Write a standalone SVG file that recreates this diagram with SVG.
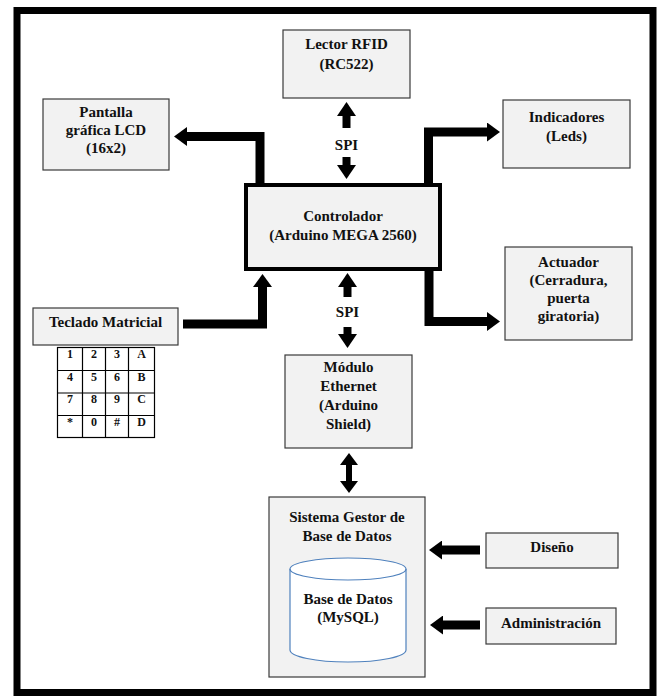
<svg xmlns="http://www.w3.org/2000/svg" width="657" height="698" viewBox="0 0 657 698">
<style>
.box{fill:#f2f2f2;stroke:#3a3a3a;stroke-width:1.2}
.t{font-family:"Liberation Serif","Times New Roman",serif;font-weight:bold;font-size:15px;fill:#111;text-anchor:middle}
.k{font-family:"Liberation Serif","Times New Roman",serif;font-weight:bold;font-size:12px;fill:#111;text-anchor:middle}
.c{fill:none;stroke:#000;stroke-linejoin:miter;stroke-linecap:butt}
.grid{fill:none;stroke:#000;stroke-width:1.2}
</style>
<defs>
<marker id="ah" markerUnits="userSpaceOnUse" viewBox="0 0 13 19" markerWidth="13" markerHeight="19" refX="0" refY="9.5" orient="auto-start-reverse">
<path d="M0,0 L13,9.5 L0,19 Z" fill="#000"/>
</marker>
<marker id="ah2" markerUnits="userSpaceOnUse" viewBox="0 0 14 19" markerWidth="14" markerHeight="19" refX="0" refY="9.5" orient="auto-start-reverse">
<path d="M0,0 L14,9.5 L0,19 Z" fill="#000"/>
</marker>
<marker id="ah3" markerUnits="userSpaceOnUse" viewBox="0 0 12 18" markerWidth="12" markerHeight="18" refX="0" refY="9" orient="auto-start-reverse">
<path d="M0,0 L12,9 L0,18 Z" fill="#000"/>
</marker>
</defs>
<rect x="0" y="0" width="657" height="698" fill="#fff"/>
<rect x="17" y="10.5" width="636" height="682" fill="#fff" stroke="#000" stroke-width="7"/>

<g id="connectors">
<path class="c" stroke-width="9" d="M260,183 V136.5 H187" marker-end="url(#ah)"/>
<path class="c" stroke-width="9" d="M428.5,183 V132 H487" marker-end="url(#ah)"/>
<path class="c" stroke-width="9" d="M429,270 V321.5 H487" marker-end="url(#ah)"/>
<path class="c" stroke-width="9" d="M183,324 H262.5 V287" marker-end="url(#ah)"/>
<path class="c" stroke-width="8" d="M346.5,128 V116" marker-end="url(#ah2)"/>
<path class="c" stroke-width="8" d="M346.5,157 V165" marker-end="url(#ah2)"/>
<path class="c" stroke-width="8" d="M347.5,297 V287" marker-end="url(#ah2)"/>
<path class="c" stroke-width="8" d="M347.5,327 V334" marker-end="url(#ah2)"/>
<path class="c" stroke-width="6" d="M349,465 V481" marker-start="url(#ah3)" marker-end="url(#ah3)"/>
<path class="c" stroke-width="9" d="M480,550 H442" marker-end="url(#ah)"/>
<path class="c" stroke-width="9" d="M480,625 H443" marker-end="url(#ah)"/>
</g>
<text class="t" x="346.5" y="150">SPI</text>
<text class="t" x="347.5" y="317">SPI</text>

<g id="rfid">
<rect class="box" x="283" y="30" width="127" height="68"/>
<text class="t" x="346.5" y="49">Lector RFID</text>
<text class="t" x="346.5" y="69">(RC522)</text>
</g>

<g id="pantalla">
<rect class="box" x="43" y="99" width="126" height="71"/>
<text class="t" x="106" y="117">Pantalla</text>
<text class="t" x="106" y="135">gráfica LCD</text>
<text class="t" x="106" y="153">(16x2)</text>
</g>

<g id="indicadores">
<rect class="box" x="503" y="100" width="127" height="68"/>
<text class="t" x="566.5" y="122">Indicadores</text>
<text class="t" x="566.5" y="141">(Leds)</text>
</g>

<g id="controlador">
<rect x="246" y="185" width="194" height="84" fill="#f2f2f2" stroke="#000" stroke-width="4"/>
<text class="t" x="343" y="221">Controlador</text>
<text class="t" x="343" y="240">(Arduino MEGA 2560)</text>
</g>

<g id="actuador">
<rect class="box" x="505" y="247" width="127" height="93"/>
<text class="t" x="568.5" y="267">Actuador</text>
<text class="t" x="568.5" y="285">(Cerradura,</text>
<text class="t" x="568.5" y="303">puerta</text>
<text class="t" x="568.5" y="321">giratoria)</text>
</g>

<g id="teclado">
<rect class="box" x="33" y="308" width="145" height="37"/>
<text class="t" x="105.5" y="327">Teclado Matricial</text>
</g>

<g id="keypad">
<rect class="grid" x="57.5" y="347.5" width="97" height="90"/>
<path class="grid" d="M82.5,347.5 V437.5 M105.5,347.5 V437.5 M128.5,347.5 V437.5 M57.5,370.5 H154.5 M57.5,393 H154.5 M57.5,415.5 H154.5"/>
<text class="k" x="70" y="357.5">1</text><text class="k" x="94" y="357.5">2</text><text class="k" x="117" y="357.5">3</text><text class="k" x="141.5" y="357.5">A</text>
<text class="k" x="70" y="380.5">4</text><text class="k" x="94" y="380.5">5</text><text class="k" x="117" y="380.5">6</text><text class="k" x="141.5" y="380.5">B</text>
<text class="k" x="70" y="403">7</text><text class="k" x="94" y="403">8</text><text class="k" x="117" y="403">9</text><text class="k" x="141.5" y="403">C</text>
<text class="k" x="70" y="426">*</text><text class="k" x="94" y="426">0</text><text class="k" x="117" y="426">#</text><text class="k" x="141.5" y="426">D</text>
</g>

<g id="ethernet">
<rect class="box" x="285" y="355" width="127" height="93"/>
<text class="t" x="348.5" y="372">Módulo</text>
<text class="t" x="348.5" y="391">Ethernet</text>
<text class="t" x="348.5" y="410">(Arduino</text>
<text class="t" x="348.5" y="429">Shield)</text>
</g>

<g id="sgbd">
<rect class="box" x="269" y="497" width="156" height="180"/>
<text class="t" x="347" y="522">Sistema Gestor de</text>
<text class="t" x="347" y="541">Base de Datos</text>
</g>

<g id="basedatos">
<path d="M290,569 V650 A58,12 0 0 0 406,650 V569 A58,11 0 0 0 290,569 Z" fill="#fff" stroke="#4f81bd" stroke-width="1.2"/>
<path d="M290,569 A58,11 0 0 0 406,569" fill="none" stroke="#4f81bd" stroke-width="1.2"/>
<text class="t" x="348" y="604">Base de Datos</text>
<text class="t" x="348" y="622">(MySQL)</text>
</g>

<g id="diseno">
<rect class="box" x="486" y="533" width="132" height="35"/>
<text class="t" x="552" y="552">Diseño</text>
</g>

<g id="administracion">
<rect class="box" x="486" y="608" width="130" height="36"/>
<text class="t" x="551" y="628">Administración</text>
</g>
</svg>
